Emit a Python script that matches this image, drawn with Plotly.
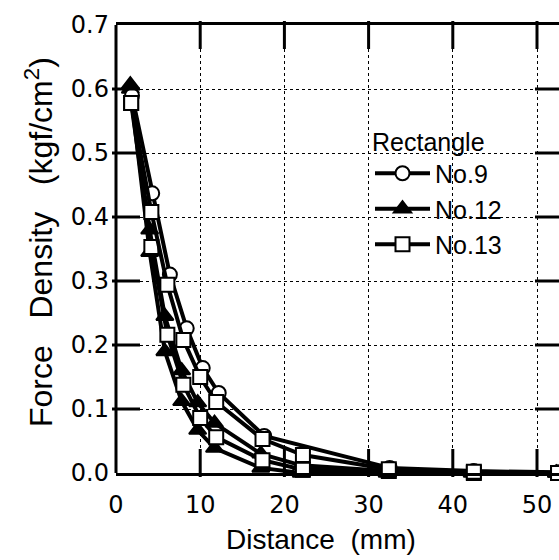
import plotly.graph_objects as go

# ---- data ----
x_no9 = [1.9, 4.3, 6.4, 8.4, 10.3, 12.2, 17.6, 32.5, 42.5, 52.5]
y_no9 = [0.59, 0.437, 0.31, 0.226, 0.164, 0.125, 0.058, 0.008, 0.003, 0.001]

x_no12 = [1.7, 4.0, 5.8, 7.8, 9.7, 11.7, 17.2, 22.0, 32.2, 42.3, 52.3]
y_no12_a = [0.607, 0.38, 0.245, 0.16, 0.11, 0.078, 0.03, 0.012, 0.003, 0.001, 0.0]
y_no12_b = [0.60, 0.345, 0.19, 0.112, 0.067, 0.039, 0.008, 0.0, 0.0, 0.0, 0.0]

x_no13 = [1.8, 4.2, 6.1, 8.0, 10.0, 11.9, 17.4, 22.2, 32.4, 42.5, 52.5]
y_no13_a = [0.578, 0.408, 0.294, 0.208, 0.15, 0.111, 0.053, 0.028, 0.006, 0.002, 0.0]
y_no13_b = [0.578, 0.353, 0.216, 0.138, 0.086, 0.056, 0.02, 0.005, 0.003, 0.0, 0.0]

x_ticks = [0, 10, 20, 30, 40, 50]
y_ticks = [0.0, 0.1, 0.2, 0.3, 0.4, 0.5, 0.6, 0.7]
y_tick_text = ["0.0", "0.1", "0.2", "0.3", "0.4", "0.5", "0.6", "0.7"]

W, H = 559, 560
ML, MT, MB, MR = 116, 25, 87, 0
PW = W - ML - MR
PH = H - MT - MB
TICKLEN = 20
X_MAX = PW / 8.42
Y_MAX = 0.7

fig = go.Figure()

def add(x, y, name, symbol, fill, size, show, rank):
    fig.add_trace(go.Scatter(
        x=x, y=y, name=name, legendgroup=name, showlegend=show, legendrank=rank,
        mode="lines+markers", cliponaxis=False,
        line=dict(color="black", width=4),
        marker=dict(symbol=symbol, size=size, color=fill,
                    line=dict(color="black", width=2)),
    ))

add(x_no12, y_no12_b, "No.12", "triangle-up", "black", 15, True, 2)
add(x_no12, y_no12_a, "No.12", "triangle-up", "black", 15, False, 2)
add(x_no9, y_no9, "No.9", "circle", "white", 14, True, 1)
add(x_no13, y_no13_b, "No.13", "square", "white", 14, True, 3)
add(x_no13, y_no13_a, "No.13", "square", "white", 14, False, 3)

# inward tick marks on all four sides, drawn as line-shaped markers of TICKLEN px
half_x = TICKLEN / 2 * Y_MAX / PH     # half tick length in y units (x-axis ticks)
half_y = TICKLEN / 2 * X_MAX / PW     # half tick length in x units (y-axis ticks)
tkx_x, tkx_y = [], []
for v in x_ticks[1:]:
    tkx_x += [v, v]
    tkx_y += [half_x, Y_MAX - half_x]
tky_x, tky_y = [], []
for v in y_ticks[1:-1]:
    tky_x += [half_y, X_MAX - half_y]
    tky_y += [v, v]
fig.add_trace(go.Scatter(x=tkx_x, y=tkx_y, mode="markers", showlegend=False, hoverinfo="skip",
                         cliponaxis=False,
                         marker=dict(symbol="line-ns", size=TICKLEN, color="black",
                                     line=dict(color="black", width=3))))
fig.add_trace(go.Scatter(x=tky_x, y=tky_y, mode="markers", showlegend=False, hoverinfo="skip",
                         cliponaxis=False,
                         marker=dict(symbol="line-ew", size=TICKLEN, color="black",
                                     line=dict(color="black", width=3))))

tickfont = dict(family="DejaVu Sans", size=24, color="black")
titlefont = dict(family="Liberation Sans, Arial, sans-serif", size=32, color="black")

fig.update_xaxes(
    range=[0, X_MAX], tickvals=x_ticks, ticks="",
    showline=True, linewidth=3, linecolor="black", mirror=True,
    showgrid=True, gridcolor="black", gridwidth=1, griddash="dot",
    zeroline=False, tickfont=tickfont, ticklabelstandoff=8,
)
fig.update_yaxes(
    range=[0, Y_MAX], tickvals=y_ticks, ticktext=y_tick_text, ticks="",
    showline=False,
    showgrid=True, gridcolor="black", gridwidth=1, griddash="dot",
    zeroline=False, tickfont=tickfont, ticklabelstandoff=6,
)

# left frame line (the right frame lies outside the picture)
fig.add_shape(type="line", xref="paper", yref="paper", x0=0, x1=0, y0=0, y1=1,
              line=dict(color="black", width=3))

fig.add_annotation(
    text="Distance\u00a0\u00a0(mm)", xref="paper", yref="paper",
    x=(321 - ML) / PW, y=(MT + PH - 539) / PH, xanchor="center", yanchor="middle",
    showarrow=False, font=dict(family="Liberation Sans, Arial, sans-serif", size=28, color="black"),
)
fig.add_annotation(
    text="Force\u00a0\u00a0\u00a0Density\u00a0\u00a0\u00a0(kgf/cm<sup>2</sup>)",
    xref="paper", yref="paper",
    x=(39 - ML) / PW, y=(MT + PH - 242) / PH, xanchor="center", yanchor="middle",
    textangle=-90, showarrow=False, font=titlefont,
)

legfont = dict(family="Liberation Sans, Arial, sans-serif", size=25, color="black")
fig.update_layout(
    width=W, height=H, margin=dict(l=ML, r=MR, t=MT, b=MB),
    paper_bgcolor="white", plot_bgcolor="white",
    showlegend=True,
    legend=dict(
        x=(370 - ML) / PW, y=(MT + PH - 118) / PH, xanchor="left", yanchor="top",
        bgcolor="rgba(0,0,0,0)", borderwidth=0, itemwidth=55,
        font=legfont, title=dict(text="Rectangle", font=legfont),
        tracegroupgap=0,
    ),
)

fig.write_html("out.html")
